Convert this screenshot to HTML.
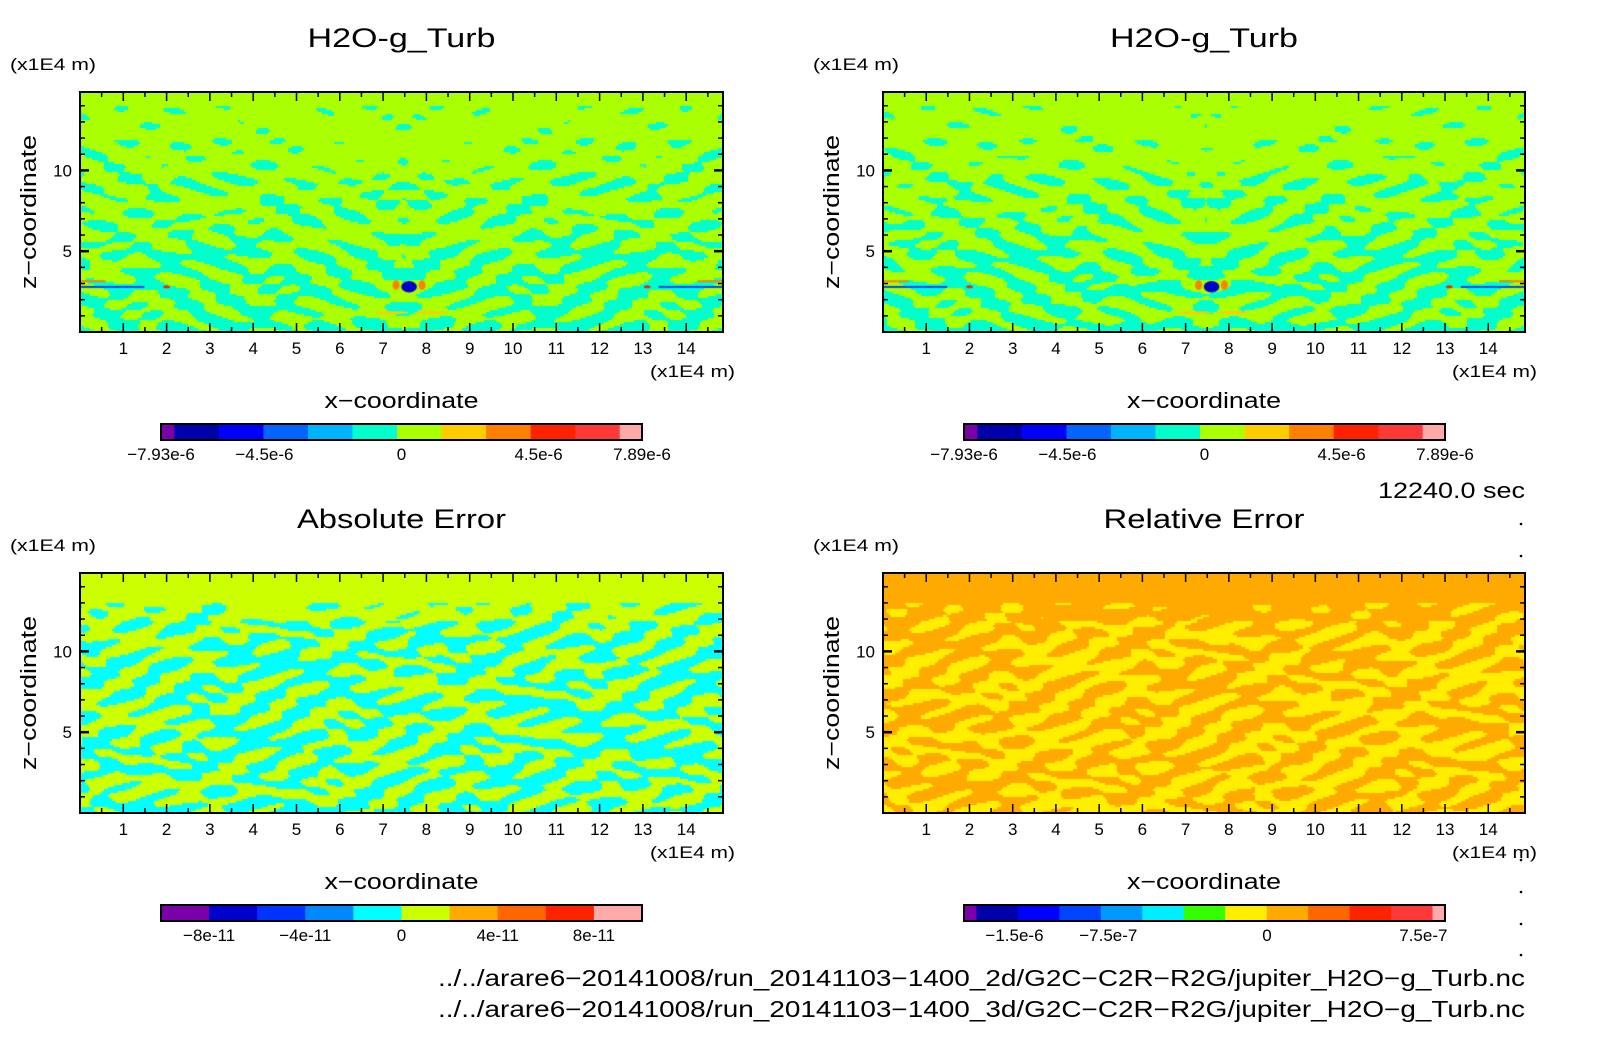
<!DOCTYPE html>
<html><head><meta charset="utf-8"><style>
html,body{margin:0;padding:0;background:#fff;}
#wrap{position:relative;width:1604px;height:1054px;overflow:hidden;font-family:"Liberation Sans",sans-serif;}
canvas{position:absolute;}
svg{position:absolute;left:0;top:0;}
text{font-family:"Liberation Sans",sans-serif;fill:#000;}
</style></head><body>
<div id="wrap">
<canvas id="c0"></canvas>
<canvas id="c1"></canvas>
<canvas id="c2"></canvas>
<canvas id="c3"></canvas>
<svg id="s" width="1604" height="1054"></svg>
</div>
<script>
// ---- data ----
const xTicks = [1,2,3,4,5,6,7,8,9,10,11,12,13,14];
const zTicks = [5,10];
const xMax = 14.85, zMax = 14.85;
// fraction of secondary colour per z unit (z=0..14)
const fracTurb = [0.5,0.52,0.5,0.48,0.45,0.42,0.4,0.36,0.34,0.3,0.28,0.2,0.1,0.03,0.0];
const fracAbs  = [0.5,0.5,0.5,0.5,0.5,0.5,0.5,0.5,0.5,0.5,0.5,0.48,0.3,0.0,0.0];
const fracRel  = [0.5,0.5,0.5,0.5,0.5,0.5,0.5,0.5,0.5,0.5,0.5,0.45,0.25,0.0,0.0];
const turbCols = ['#7a00aa','#0000aa','#0000ff','#0066ff','#00b4ff','#00ffcc','#aaff00','#ffcc00','#ff8000','#ff2200','#ff3838','#ffaaaa'];
const turbW    = [0.3,1,1,1,1,1,1,1,1,1,1,0.5];
const turbLbls = ['-7.93e-6','-4.5e-6','0','4.5e-6','7.89e-6'];
const turbLblPos = [0,0.215,0.5,0.785,1];
const absCols = ['#7a00aa','#0000cc','#0033ff','#0088ff','#00ffff','#ccff00','#ffaa00','#ff6600','#ff2200','#ff1111','#ffaaaa'];
const absW    = [1,1,1,1,1,1,1,1,1,0,1];
const absLbls = ['-8e-11','-4e-11','0','4e-11','8e-11'];
const absLblPos = [0.1,0.3,0.5,0.7,0.9];
const relCols = ['#7a00aa','#0000aa','#0000ff','#0044ff','#0099ff','#00eeff','#33ff00','#ffee00','#ffaa00','#ff6600','#ff2200','#ff3838','#ffaaaa'];
const relW    = [0.3,1,1,1,1,1,1,1,1,1,1,1,0.3];
const relLbls = ['-1.5e-6','-7.5e-7','0','7.5e-7'];
const relLblPos = [0.105,0.3,0.63,0.955];
// small features in top panels: [x, z, colour, width, height]
const turbFeat = [[7.6,2.8,'#0000cc',0.18,0.7],[7.3,2.9,'#ff8000',0.08,0.6],[7.9,2.9,'#ff8000',0.08,0.6],[7.2,1.2,'#ffcc00',0.4,0.18],[8.1,1.2,'#ffcc00',0.4,0.18],[2.0,2.8,'#ff2200',0.08,0.2],[13.1,2.8,'#ff2200',0.08,0.2]];

const panels = [
 {x0:80,x1:723,y0:92,y1:332,title:'H2O-g_Turb',tw:188,frac:fracTurb,bg:'#aaff00',fg:'#00ffcc',sym:true,cols:turbCols,w:turbW,lbl:turbLbls,lp:turbLblPos,feat:true},
 {x0:883,x1:1525,y0:92,y1:332,title:'H2O-g_Turb',tw:188,frac:fracTurb,bg:'#aaff00',fg:'#00ffcc',sym:true,cols:turbCols,w:turbW,lbl:turbLbls,lp:turbLblPos,feat:true},
 {x0:80,x1:723,y0:573,y1:813,title:'Absolute Error',tw:209,frac:fracAbs,bg:'#ccff00',fg:'#00ffff',sym:false,cols:absCols,w:absW,lbl:absLbls,lp:absLblPos},
 {x0:883,x1:1525,y0:573,y1:813,title:'Relative Error',tw:201,frac:fracRel,bg:'#ffaa00',fg:'#ffee00',sym:false,cols:relCols,w:relW,lbl:relLbls,lp:relLblPos}
];
const svg=document.getElementById('s');
const NS='http://www.w3.org/2000/svg';
function mk(tag,attrs,txt){const e=document.createElementNS(NS,tag);for(const k in attrs)e.setAttribute(k,attrs[k]);if(txt!==undefined)e.textContent=txt;svg.appendChild(e);return e;}

panels.forEach((p,i)=>{
  const W=p.x1-p.x0,H=p.y1-p.y0;
  const sx=v=>p.x0+v/xMax*W, sz=v=>p.y1-v/zMax*H;
  const cv=document.getElementById('c'+i);
  cv.width=W;cv.height=H;cv.style.left=p.x0+'px';cv.style.top=p.y0+'px';
  const g=cv.getContext('2d');
  g.fillStyle=p.bg;g.fillRect(0,0,W,H);
  g.fillStyle=p.fg;
  const cs=2;
  for(let py=0;py<H;py+=cs){
    const z=(H-py)/H*zMax;
    const zi=Math.min(14,Math.floor(z));
    const fr=p.frac[zi];
    if(fr<=0)continue;
    const thr=(1-2*fr)*1.2;
    for(let px=0;px<W;px+=cs){
      let x=px/W*xMax;
      if(p.sym)x=Math.abs(x-7.45);
      const f=Math.sin(x*3.0+2.2*Math.sin(z*1.4+x*0.7))*Math.cos(z*4.2+1.2*Math.sin(x*2.1))+0.6*Math.sin(x*5.3-z*3.3+i);
      if(f>thr)g.fillRect(px,py,cs,cs);
    }
  }
  if(p.feat){
    g.fillStyle='#0044ff';g.fillRect(0,sz(2.85)-p.y0,W*0.1,2);g.fillRect(W*0.9,sz(2.85)-p.y0,W*0.1,2);
    g.fillStyle='#ff8000';g.fillRect(0,sz(3.2)-p.y0,W*0.04,2);g.fillRect(W*0.96,sz(3.2)-p.y0,W*0.04,2);
    turbFeat.forEach(f=>{
      g.fillStyle=f[2];
      g.beginPath();g.ellipse(sx(f[0])-p.x0,sz(f[1])-p.y0,f[3]/xMax*W,f[4]/zMax*H/2,0,0,Math.PI*2);g.fill();
    });
  }
  const fr=mk('rect',{x:p.x0,y:p.y0,width:W,height:H,fill:'none',stroke:'#000','stroke-width':2});
  
  
  for(let v=0.5;v<xMax;v+=0.5){
    const L=Number.isInteger(v)?9:5;
    mk('line',{x1:sx(v),x2:sx(v),y1:p.y1,y2:p.y1-L,stroke:'#000','stroke-width':1.5});
    mk('line',{x1:sx(v),x2:sx(v),y1:p.y0,y2:p.y0+L,stroke:'#000','stroke-width':1.5});
  }
  for(let v=1;v<zMax;v+=1){
    const L=(v%5===0)?9:5;
    mk('line',{x1:p.x0,x2:p.x0+L,y1:sz(v),y2:sz(v),stroke:'#000','stroke-width':(v%5===0)?2.5:1.5});
    mk('line',{x1:p.x1,x2:p.x1-L,y1:sz(v),y2:sz(v),stroke:'#000','stroke-width':(v%5===0)?2.5:1.5});
  }
  xTicks.forEach(v=>{
    const t=mk('text',{x:sx(v),y:p.y1+22,'font-size':17,'text-anchor':'middle'},String(v));
    
    
  });
  zTicks.forEach(v=>{
    const t=mk('text',{x:p.x0-8,y:sz(v)+6,'font-size':17,'text-anchor':'end'},String(v));
    
    
  });
  const cx=(p.x0+p.x1)/2;
  const tt=mk('text',{x:cx-p.tw/2,y:p.y0-45,'font-size':27,textLength:p.tw,lengthAdjust:'spacingAndGlyphs'},p.title);
  
  
  const u=mk('text',{x:p.x0-70,y:p.y0-22,'font-size':17,textLength:86,lengthAdjust:'spacingAndGlyphs'},'(x1E4 m)');
  
  
  const u2=mk('text',{x:p.x1-73,y:p.y1+45,'font-size':17,textLength:85,lengthAdjust:'spacingAndGlyphs'},'(x1E4 m)');
  
  
  const xt=mk('text',{x:cx-77,y:p.y1+76,'font-size':22,textLength:154,lengthAdjust:'spacingAndGlyphs'},'x\u2212coordinate');
  
  
  const zt=mk('text',{x:-77,y:0,'font-size':22,textLength:154,lengthAdjust:'spacingAndGlyphs',transform:`translate(${p.x0-44},${(p.y0+p.y1)/2}) rotate(-90)`},'z\u2212coordinate');
  
  
  const cb0=p.x0+81,cb1=p.x0+562,cy=p.y1+92,ch=16;
  const tot=p.w.reduce((a,b)=>a+b,0);let acc=0;
  p.cols.forEach((c,k)=>{
    if(p.w[k]<=0)return;
    const r=mk('rect',{x:cb0+acc/tot*(cb1-cb0),y:cy,width:p.w[k]/tot*(cb1-cb0)+0.5,height:ch,fill:c});
    
    
    acc+=p.w[k];
  });
  mk('rect',{x:cb0,y:cy,width:cb1-cb0,height:ch,fill:'none',stroke:'#000','stroke-width':2});
  p.lbl.forEach((l,k)=>{
    const t=mk('text',{x:cb0+p.lp[k]*(cb1-cb0),y:cy+36,'font-size':17,'text-anchor':'middle'},l.replace(/^-/,'\u2212'));
    
    
  });
});
const tm=mk('text',{x:1378,y:498,'font-size':22,textLength:147,lengthAdjust:'spacingAndGlyphs'},'12240.0 sec');


const p1=mk('text',{x:438,y:986,'font-size':23,textLength:1087,lengthAdjust:'spacingAndGlyphs'},'../../arare6\u221220141008/run_20141103\u22121400_2d/G2C\u2212C2R\u2212R2G/jupiter_H2O\u2212g_Turb.nc');


const p2=mk('text',{x:438,y:1017,'font-size':23,textLength:1087,lengthAdjust:'spacingAndGlyphs'},'../../arare6\u221220141008/run_20141103\u22121400_3d/G2C\u2212C2R\u2212R2G/jupiter_H2O\u2212g_Turb.nc');


[524,556,860,892,924,955].forEach(y=>{mk('circle',{cx:1521,cy:y,r:1.3,fill:'#000'});});
</script>
</body></html>
